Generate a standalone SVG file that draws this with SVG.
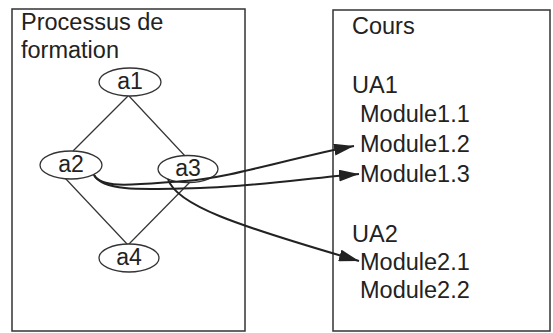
<svg xmlns="http://www.w3.org/2000/svg" width="553" height="333" viewBox="0 0 553 333">
<style>
.box{fill:none;stroke:#333;stroke-width:1.5}
.node{fill:#fff;stroke:#333;stroke-width:1.3}
.t{font-family:"Liberation Sans",Arial,sans-serif;font-size:23.5px;fill:#222}
.n{font-family:"Liberation Sans",Arial,sans-serif;font-size:23px;fill:#222;text-anchor:middle}
.edge{fill:none;stroke:#333;stroke-width:1.2}
.link{fill:none;stroke:#222;stroke-width:2}
</style>
<defs>
<marker id="arr" markerUnits="userSpaceOnUse" markerWidth="20" markerHeight="12" refX="20" refY="6" orient="auto">
<path d="M0,0 L20,6 L0,12 Z" fill="#222"/>
</marker>
</defs>
<rect width="553" height="333" fill="#fff"/>
<g id="processus">
<rect class="box" x="12" y="9" width="233" height="322"/>
<text class="t" x="21" y="30">Processus de</text>
<text class="t" x="21" y="58">formation</text>
</g>
<g id="cours">
<rect class="box" x="333" y="10" width="217" height="321"/>
<text class="t" x="352" y="34">Cours</text>
<text class="t" x="352" y="93">UA1</text>
<text class="t" x="360" y="122">Module1.1</text>
<text class="t" x="360" y="152">Module1.2</text>
<text class="t" x="360" y="182">Module1.3</text>
<text class="t" x="352" y="242">UA2</text>
<text class="t" x="360" y="270">Module2.1</text>
<text class="t" x="360" y="298">Module2.2</text>
</g>
<g id="connectors">
<line class="edge" x1="128" y1="96" x2="73" y2="151"/>
<line class="edge" x1="129" y1="96" x2="185" y2="156"/>
<line class="edge" x1="65" y1="178" x2="128" y2="245"/>
<line class="edge" x1="192" y1="180" x2="128" y2="245"/>
</g>
<g id="a1"><ellipse class="node" cx="130" cy="82" rx="31" ry="14"/><text class="n" x="130" y="89">a1</text></g>
<g id="a2"><ellipse class="node" cx="71" cy="165" rx="31" ry="14"/><text class="n" x="71" y="172">a2</text></g>
<g id="a3"><ellipse class="node" cx="188" cy="169" rx="30" ry="13.5"/><text class="n" x="188" y="176">a3</text></g>
<g id="a4"><ellipse class="node" cx="129" cy="258" rx="30" ry="14"/><text class="n" x="129" y="265">a4</text></g>
<g id="links">
<path class="link" d="M94,175 C102,190 140,184 185,181 S290,158 354,146" marker-end="url(#arr)"/>
<path class="link" d="M94,175 C104,193 150,189 200,188 S310,178 359,174" marker-end="url(#arr)"/>
<path class="link" d="M168,179 C176,205 235,225 359,261" marker-end="url(#arr)"/>
</g>
</svg>
